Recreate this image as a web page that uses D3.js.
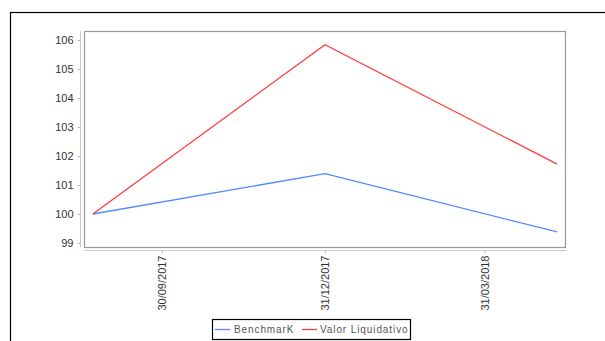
<!DOCTYPE html>
<html><head><meta charset="utf-8">
<script src="https://cdn.jsdelivr.net/npm/d3@7/dist/d3.min.js"></script>
<style>body{margin:0;background:#fff;}svg{display:block;font-family:"Liberation Sans",Arial,sans-serif;}</style>
</head><body>
<svg id="c" width="605" height="341"></svg>
<script>
const dates = ["2017-08-22","2017-12-31","2018-05-11"];
const benchmark = [100, 101.39, 99.38];
const valorLiquidativo = [100, 105.84, 101.72];
const xTickLabels = ["30/09/2017","31/12/2017","31/03/2018"];
const xTickDates = ["2017-09-30","2017-12-31","2018-03-31"];
const yTicks = [99,100,101,102,103,104,105,106];
const seriesNames = ["BenchmarK","Valor Liquidativo"];
const colors = ["#4f8bff","#ff3b3b"];

const svg = d3.select("#c");
const parse = d3.utcParse("%Y-%m-%d");
// outer border
svg.append("rect").attr("x",10.5).attr("y",12.5).attr("width",620).attr("height",360)
  .attr("fill","none").attr("stroke","#000").attr("stroke-width",1.2);

const L=84, R=566, T=31, B=247;
const x = d3.scaleUtc().domain([parse("2017-08-17"), parse("2018-05-16")]).range([L,R]);
const y = d3.scaleLinear().domain([99,106]).range([243,40]);

// plot box
svg.append("rect").attr("x",L+0.5).attr("y",T+0.5).attr("width",R-L-1).attr("height",B-T)
  .attr("fill","none").attr("stroke","#999").attr("stroke-width",1.2);

// y axis
const ya = svg.append("g").attr("transform","translate(80.5,0)")
  .call(d3.axisLeft(y).tickValues(yTicks).tickSize(3).tickPadding(4).tickFormat(d3.format("d")));
ya.select(".domain").attr("stroke","#ccc").attr("d",`M0,${T}V${B}`);
ya.selectAll(".tick line").attr("stroke","#bbb");
ya.selectAll("text").attr("fill","#333").attr("font-size",11);

// x axis
const xa = svg.append("g").attr("transform","translate(0,250.5)")
  .call(d3.axisBottom(x).tickValues(xTickDates.map(parse)).tickSize(3)
    .tickFormat((d,i)=>xTickLabels[i]));
xa.select(".domain").attr("stroke","#ccc").attr("d",`M${L},0H${R}`);
xa.selectAll(".tick line").attr("stroke","#bbb");
xa.selectAll("text").attr("fill","#333").attr("font-size",11)
  .attr("transform","rotate(-90)").attr("text-anchor","end")
  .attr("x",-5).attr("y",0).attr("dy","0.35em");

// lines
const line = d3.line().x(d=>x(d[0])).y(d=>y(d[1]));
[benchmark, valorLiquidativo].forEach((vals,i)=>{
  svg.append("path").datum(dates.map((d,j)=>[parse(d),vals[j]]))
    .attr("d",line).attr("fill","none").attr("stroke",colors[i]).attr("stroke-width",1.3);
});

// legend
const lg = svg.append("g");
lg.append("rect").attr("x",212.5).attr("y",319.5).attr("width",198).attr("height",20)
  .attr("fill","#fff").attr("stroke","#000").attr("stroke-width",1.2);
const items = [{x:215,tx:234},{x:302,tx:320}];
items.forEach((it,i)=>{
  lg.append("line").attr("x1",it.x).attr("x2",it.x+15).attr("y1",329.5).attr("y2",329.5)
    .attr("stroke",colors[i]).attr("stroke-width",1.3);
  lg.append("text").attr("x",it.tx).attr("y",333).attr("font-size",10).attr("fill","#555")
    .attr("letter-spacing","0.9px").text(seriesNames[i]);
});
</script>
</body></html>
